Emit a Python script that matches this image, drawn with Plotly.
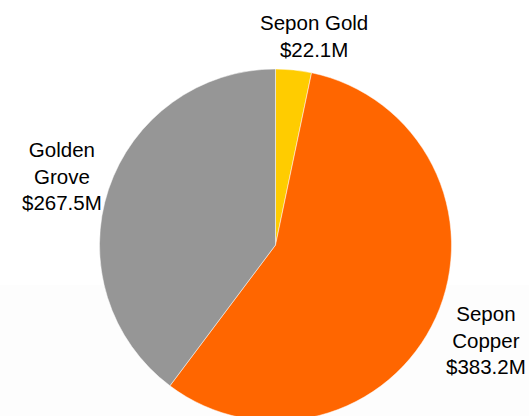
import plotly.graph_objects as go

labels = ["Sepon Gold", "Sepon Copper", "Golden Grove"]
label_lines = ["Sepon Gold", "Sepon<br>Copper", "Golden<br>Grove"]
values = [22.1, 383.2, 267.5]
colors = ["#FFCC00", "#FF6600", "#969696"]

W, H = 529, 490
cx, cy, r = 275.5, 245, 176

fig = go.Figure(go.Pie(
    labels=labels, values=values, sort=False, direction="clockwise", rotation=0,
    marker=dict(colors=colors, line=dict(color="white", width=0.5)),
    textinfo="none", hoverinfo="label+value", showlegend=False,
    domain=dict(x=[(cx - r) / W, (cx + r) / W], y=[1 - (cy + r) / H, 1 - (cy - r) / H]),
))

label_pos = [(314, 36), (485.5, 340), (61.5, 176)]
for txt, v, (px, py) in zip(label_lines, values, label_pos):
    fig.add_annotation(
        x=px / W, y=1 - py / H, xref="paper", yref="paper",
        text=f"{txt}<br>${v:.1f}M", showarrow=False,
        xanchor="center", yanchor="middle", align="center",
        font=dict(family="Liberation Sans, Arial, sans-serif", size=20.5, color="#000000"),
    )

fig.add_shape(type="rect", xref="paper", yref="paper", x0=0, x1=1, y0=0, y1=1 - 285 / H,
              fillcolor="#fdfdfd", line=dict(width=0), layer="below")

fig.update_layout(
    width=W, height=H, margin=dict(l=0, r=0, t=0, b=0),
    paper_bgcolor="white", plot_bgcolor="white",
)

fig.write_html("out.html", post_script="document.documentElement.style.overflow='hidden';document.body.style.overflow='hidden';document.body.style.margin='0';")
